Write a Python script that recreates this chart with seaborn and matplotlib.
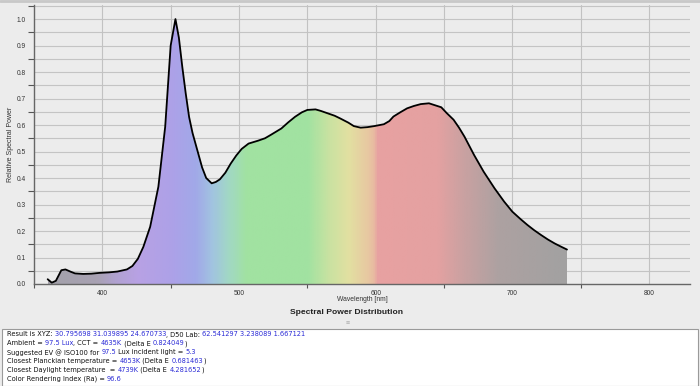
import numpy as np
import pandas as pd
import matplotlib
matplotlib.use("Agg")
import matplotlib.pyplot as plt
import seaborn as sns
from matplotlib.colors import LinearSegmentedColormap
from matplotlib.transforms import IdentityTransform

# ---------------- data ----------------
wavelength = [360, 363, 366, 370, 373, 377, 380, 386, 392, 398, 405, 411, 418, 422, 426,
              430, 435, 441, 446, 450, 453.5, 456, 458.5, 461, 463.5, 466, 469.5, 473,
              476, 480, 483, 486, 490, 494, 498, 502, 507, 514, 519, 523, 531, 536, 541,
              546, 550, 556, 560, 565, 570, 574, 580, 584, 589, 594, 599, 606, 610, 613,
              618, 623, 628, 633, 639, 645, 648, 652, 657, 661, 665, 672, 679, 687, 694,
              700, 706, 711, 716, 721, 726, 731, 736, 740]
power = [0.018, 0.005, 0.012, 0.052, 0.055, 0.046, 0.040, 0.038, 0.039, 0.042, 0.044,
         0.047, 0.055, 0.068, 0.095, 0.140, 0.216, 0.367, 0.594, 0.900, 1.000, 0.930,
         0.820, 0.720, 0.630, 0.570, 0.505, 0.440, 0.400, 0.380, 0.385, 0.395, 0.420,
         0.455, 0.485, 0.510, 0.530, 0.541, 0.550, 0.562, 0.587, 0.610, 0.631, 0.648,
         0.657, 0.659, 0.653, 0.644, 0.635, 0.625, 0.609, 0.596, 0.590, 0.592, 0.596,
         0.603, 0.615, 0.632, 0.648, 0.663, 0.672, 0.679, 0.682, 0.672, 0.667, 0.645,
         0.620, 0.590, 0.556, 0.487, 0.424, 0.361, 0.311, 0.273, 0.245, 0.223, 0.203,
         0.185, 0.168, 0.153, 0.140, 0.130]

x_ticks = [400, 500, 600, 700, 800]
y_ticks = [0.0, 0.1, 0.2, 0.3, 0.4, 0.5, 0.6, 0.7, 0.8, 0.9, 1.0]
y_tick_labels = ["0.0", "0.1", "0.2", "0.3", "0.4", "0.5", "0.6", "0.7", "0.8", "0.9", "1.0"]

x_label = "Wavelength [nm]"
y_label = "Relative Spectral Power"
title = "Spectral Power Distribution"

K, B = "black", "blue"
info_lines = [
    [("Result is XYZ: ", K), ("30.795698 31.039895 24.670733", B), (", D50 Lab: ", K),
     ("62.541297 3.238089 1.667121", B)],
    [("Ambient = ", K), ("97.5 Lux", B), (", CCT = ", K), ("4635K", B), (" (Delta E ", K),
     ("0.824049", B), (")", K)],
    [("Suggested EV @ ISO100 for ", K), ("97.5", B), (" Lux incident light = ", K), ("5.3", B)],
    [("Closest Planckian temperature = ", K), ("4653K", B), (" (Delta E ", K),
     ("0.681463", B), (")", K)],
    [("Closest Daylight temperature  = ", K), ("4739K", B), (" (Delta E ", K),
     ("4.281652", B), (")", K)],
    [("Color Rendering Index (Ra) = ", K), ("96.6", B)],
]

# spectrum colour stops (style)
spec_stops = [(360, "#a3a1aa"), (395, "#a8a1b2"), (410, "#b1a1d2"), (425, "#b8a1e4"),
              (450, "#ada1e8"), (468, "#a1a9e8"), (480, "#a1c4e0"), (492, "#a1d8c4"),
              (505, "#a1e2a1"), (550, "#a1e2a1"), (565, "#c8e2a1"), (580, "#e2e0a1"),
              (594, "#e8c8a1"), (599, "#e8b8a1"), (601, "#e8a1a1"), (645, "#e4a1a1"),
              (665, "#c9a1a1"), (690, "#ada1a1"), (740, "#a2a1a1")]

# ---------------- style ----------------
sns.set_theme(style="white")
plt.rcParams["font.family"] = ["Liberation Sans", "DejaVu Sans"]
BG = "#ececec"

W, H = 700, 386
fig = plt.figure(figsize=(W / 100, H / 100), dpi=100, facecolor=BG)
ax = fig.add_axes([34 / W, 1 - 284 / H, (690 - 34) / W, (284 - 5) / H])
ax.set_facecolor(BG)

df = pd.DataFrame({"wl": wavelength, "p": power})

# gradient fill clipped to area under curve
wl0, wl1 = wavelength[0], wavelength[-1]
cmap = LinearSegmentedColormap.from_list(
    "spec", [((w - wl0) / (wl1 - wl0), c) for w, c in spec_stops])
grad = np.linspace(0, 1, 800).reshape(1, -1)
img = ax.imshow(grad, cmap=cmap, extent=[wl0, wl1, 0, 1.05], aspect="auto",
                origin="lower", zorder=2, interpolation="bilinear")
poly = ax.fill_between(df["wl"], 0, df["p"], facecolor="none", edgecolor="none", zorder=2)
img.set_clip_path(poly.get_paths()[0], transform=ax.transData)

sns.lineplot(data=df, x="wl", y="p", ax=ax, color="black", linewidth=1.3,
             estimator=None, sort=False, zorder=4)

ax.set_xlim(350, 830)
ax.set_ylim(0, 1.053)

# grid
for v in np.arange(0.05, 1.051, 0.05):
    ax.axhline(v, color="#c4c4c4", lw=0.8, zorder=1)
for v in np.arange(400, 801, 50):
    ax.axvline(v, color="#c2c2c2", lw=0.8, zorder=1)

ax.set_xticks(x_ticks)
ax.set_xticklabels([str(t) for t in x_ticks])
ax.set_xticks(np.arange(350, 830, 50), minor=True)
ax.set_yticks(y_ticks)
ax.set_yticklabels(y_tick_labels)
ax.set_yticks(np.arange(0.05, 1.051, 0.1), minor=True)
ax.tick_params(axis="both", which="both", direction="out", colors="#555555",
               labelcolor="#333333", labelsize=4.8, width=0.8)
ax.tick_params(axis="y", which="major", length=4, pad=2)
ax.tick_params(axis="y", which="minor", length=4, left=True)
ax.tick_params(axis="x", which="major", length=0, pad=4.5)
ax.tick_params(axis="x", which="minor", length=3, bottom=True)

for s in ["top", "right"]:
    ax.spines[s].set_visible(False)
for s in ["left", "bottom"]:
    ax.spines[s].set_color("#666666")
    ax.spines[s].set_linewidth(1.0)
    ax.spines[s].set_zorder(5)

ax.set_xlabel("")
ax.set_ylabel("")
fig.text(11 / W, 1 - 144 / H, y_label, rotation=90, ha="center", va="center",
         fontsize=5.0, color="#333333")
fig.text(362 / W, 1 - 299.5 / H, x_label, ha="center", va="center", fontsize=4.9,
         color="#333333")
fig.text(346 / W, 1 - 312.5 / H, title, ha="center", va="center", fontsize=6.1,
         fontweight="bold", color="#222222")
fig.text(348 / W, 1 - 323.5 / H, "≡", ha="center", va="center", fontsize=5,
         color="#aaaaaa")

# top window edge
fig.add_artist(plt.Line2D([0, 1], [1 - 0.5 / H, 1 - 0.5 / H], transform=fig.transFigure,
                          color="#c8c8c8", lw=2))

# info box
box = plt.Rectangle((2 / W, 0.5 / H), (W - 4) / W, (385 - 328) / H,
                    transform=fig.transFigure, facecolor="white", edgecolor="#9a9a9a",
                    lw=0.8)
fig.add_artist(box)

fig.canvas.draw()
renderer = fig.canvas.get_renderer()
colors = {K: "#111111", B: "#2b2bd6"}
INFO_FONT = ["DejaVu Sans"]


def ext_w(s, size):
    t = fig.text(0, 0, s, fontsize=size, family=INFO_FONT, transform=IdentityTransform())
    w = t.get_window_extent(renderer).width
    t.remove()
    return w


def advance(s, size):
    if not s:
        return 0.0
    return ext_w("a" + s + "a", size) - ext_w("aa", size)


# fit font size so the first line spans the same width as in the reference
target = 298.0
fs = 6.0
full1 = "".join(t for t, _ in info_lines[0])
fs = fs * target / advance(full1, fs)

y_first, spacing = 334.5, 8.9
for i, segs in enumerate(info_lines):
    ypix = H - (y_first + i * spacing)
    prefix = ""
    for txt, col in segs:
        xpix = 7 + advance(prefix, fs)
        fig.text(xpix, ypix, txt, fontsize=fs, family=INFO_FONT, color=colors[col],
                 va="center", transform=IdentityTransform())
        prefix += txt

fig.savefig("out.png", dpi=100, facecolor=BG)
